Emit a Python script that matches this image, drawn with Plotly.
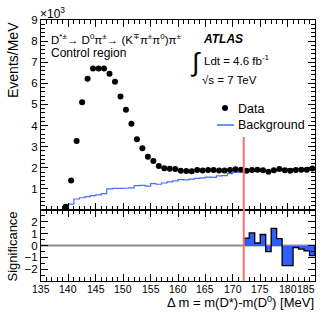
import plotly.graph_objects as go

# ---- data (events/MeV in units of 10^3) ----
data_centers = [139.5 + i for i in range(46)]
data_values = [0.15, 1.40, 3.27, 5.10, 6.22, 6.70, 6.70, 6.70, 6.45, 6.08,
               5.38, 4.75, 4.08, 3.35, 2.93, 2.52, 2.32, 2.08, 1.98, 1.95,
               1.94, 1.86, 1.85, 1.83, 1.90, 1.87, 1.90, 1.90, 1.87, 1.87,
               1.89, 1.93, 1.91, 1.86, 1.90, 1.91, 1.88, 1.81, 1.88, 1.94,
               1.88, 1.86, 1.90, 1.91, 1.91, 1.96]

bg_edges = [139 + i for i in range(47)]
bg_values = [0.10, 0.28, 0.52, 0.58, 0.63, 0.68, 0.72, 0.78, 1.00, 1.02,
             1.02, 1.03, 1.05, 1.15, 1.17, 1.13, 1.25, 1.22, 1.28, 1.33,
             1.38, 1.44, 1.43, 1.46, 1.50, 1.52, 1.56, 1.55, 1.62, 1.63,
             1.72, 1.78, 1.80, 1.82, 1.84, 1.83, 1.86, 1.84, 1.85, 1.90,
             1.95, 1.96, 1.94, 1.95, 1.96, 1.98]

sig_edges = [172 + i for i in range(14)]
sig_values = [0.62, 1.07, 0.21, 0.93, -0.52, 1.45, 0.58, -1.70, -1.70,
              -0.17, -0.30, -0.45, -0.85]

cut_value = 172
main_ticks = [1, 2, 3, 4, 5, 6, 7, 8, 9]
sig_ticks = [-2, -1, 0, 1, 2]
x_ticks = [135, 140, 145, 150, 155, 160, 165, 170, 175, 180, 185]

FONT = "Liberation Sans, Arial, Helvetica, sans-serif"
BLUE_LINE = "rgb(70,110,255)"
BLUE_FILL = "rgb(45,95,255)"
RED = "rgb(255,110,110)"

W, H = 332, 319
L, R, T, B = 41, 17, 20, 38
PW, PH = W - L - R, H - T - B


def xp(px):
    return (px - L) / PW


def yp(py):
    return (H - B - py) / PH


split = yp(210)

fig = go.Figure()

# background step histogram
bx = list(bg_edges)
by = list(bg_values) + [bg_values[-1]]
fig.add_trace(go.Scatter(x=bx, y=by, mode="lines", line=dict(color=BLUE_LINE, width=1.2, shape="hv"),
                         xaxis="x", yaxis="y", showlegend=False, hoverinfo="skip"))

# data points
fig.add_trace(go.Scatter(x=data_centers, y=data_values, mode="markers",
                         marker=dict(color="black", size=6), xaxis="x", yaxis="y", showlegend=False))

# significance bars (fill)
sig_centers = [(sig_edges[i] + sig_edges[i + 1]) / 2 for i in range(len(sig_values))]
fig.add_trace(go.Bar(x=sig_centers, y=sig_values, width=1.0, marker=dict(color=BLUE_FILL, line=dict(width=0)),
                     xaxis="x2", yaxis="y2", showlegend=False))
# significance outline
sx = [sig_edges[0]] + list(sig_edges) + [sig_edges[-1]]
sy = [0] + list(sig_values) + [sig_values[-1], 0]
fig.add_trace(go.Scatter(x=sx, y=sy, mode="lines", line=dict(color="black", width=1.3, shape="hv"),
                         xaxis="x2", yaxis="y2", showlegend=False, hoverinfo="skip"))

TICKFONT = dict(family=FONT, size=11.5, color="black")
axis_common = dict(showline=True, linecolor="black", linewidth=1, mirror="allticks",
                   ticks="inside", tickcolor="black", showgrid=False, zeroline=False,
                   tickfont=TICKFONT)

fig.update_layout(
    width=W, height=H,
    margin=dict(l=L, r=R, t=T, b=B),
    paper_bgcolor="white", plot_bgcolor="white",
    font=dict(family=FONT, color="black"),
    bargap=0,
    xaxis=dict(domain=[0, 1], anchor="y", range=[135, 185], tickvals=x_ticks, showticklabels=False,
               ticklen=7, minor=dict(dtick=1, ticklen=4, ticks="inside", tickcolor="black"), **axis_common),
    yaxis=dict(domain=[split, 1], anchor="x", range=[0, 9], tickvals=main_ticks,
               ticktext=[str(v) for v in main_ticks], ticklen=7,
               minor=dict(dtick=0.2, ticklen=4, ticks="inside", tickcolor="black"), **axis_common),
    xaxis2=dict(domain=[0, 1], anchor="y2", range=[135, 185], tickvals=x_ticks, showticklabels=False,
                ticklen=7, minor=dict(dtick=1, ticklen=4, ticks="inside", tickcolor="black"), **axis_common),
    yaxis2=dict(domain=[0, split], anchor="x2", range=[-3, 3], tickvals=sig_ticks, ticklen=7,
                minor=dict(dtick=0.5, ticklen=4, ticks="inside", tickcolor="black"), **axis_common),
)

shapes = []
# zero line in significance panel
shapes.append(dict(type="line", xref="x2 domain", yref="y2", x0=0, x1=1, y0=0, y1=0,
                   line=dict(color="rgb(140,140,140)", width=2), layer="below"))
# red cut line
shapes.append(dict(type="line", xref="x", yref="paper", x0=cut_value, x1=cut_value, y0=0, y1=yp(137),
                   line=dict(color=RED, width=2)))
# legend symbols
shapes.append(dict(type="circle", xref="paper", yref="paper", x0=xp(222), x1=xp(228), y0=yp(111), y1=yp(105),
                   fillcolor="black", line=dict(width=0)))
shapes.append(dict(type="line", xref="paper", yref="paper", x0=xp(217), x1=xp(234), y0=yp(125), y1=yp(125),
                   line=dict(color=BLUE_LINE, width=1.5)))
fig.update_layout(shapes=shapes)

ann = []


def text(s, x, y, size=12, xanchor="left", yanchor="middle", angle=0, xref="paper", **kw):
    ann.append(dict(text=s, x=x, y=y, xref=xref, yref="paper", showarrow=False,
                    xanchor=xanchor, yanchor=yanchor, textangle=angle,
                    font=dict(family=FONT, size=size, color="black"), **kw))


# x tick labels of the lower panel (last one kept inside the frame, as in the original)
for v in x_ticks:
    if v == x_ticks[-1]:
        text(str(v), xp(316.5), yp(289), size=10.5, xanchor="right")
    else:
        text(str(v), v, yp(289), size=10.5, xanchor="center", xref="x2")

text("×10<sup>3</sup>", xp(38), yp(13), size=12)
text("D<sup>*±</sup>→ D<sup>0</sup>π<sup>±</sup>→ (K<sup>∓</sup>π<sup>±</sup>π<sup>0</sup>)π<sup>±</sup>",
     xp(49), yp(39), size=11.5)
text("Control region", xp(49), yp(53), size=12)
text("<b><i>ATLAS</i></b>", xp(201), yp(39), size=12)
text("∫", xp(188), yp(62), size=26)
text("Ldt = 4.6 fb<sup>-1</sup>", xp(202), yp(60), size=11.5)
text("√s = 7 TeV", xp(200), yp(80), size=11.5)
text("Data", xp(236), yp(109), size=12.5)
text("Background", xp(236), yp(125), size=12.5)
text("Events/MeV", xp(3), yp(20), size=14, xanchor="left", yanchor="top", angle=-90)
text("Significance", xp(3), yp(210), size=13, xanchor="left", yanchor="top", angle=-90)
text("Δ m = m(D*)-m(D<sup>0</sup>) [MeV]", xp(316), yp(302), size=13, xanchor="right")

fig.update_layout(annotations=ann)

fig.write_html("out.html", config={"displayModeBar": False},
               post_script="document.body.style.margin='0px';")
